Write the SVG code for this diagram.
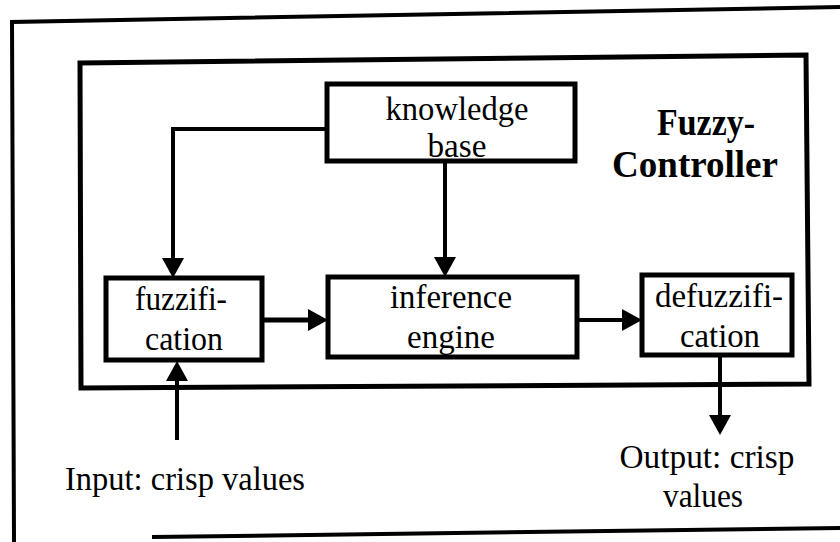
<svg xmlns="http://www.w3.org/2000/svg" width="840" height="542" viewBox="0 0 840 542">
<style>
.frame{fill:none;stroke:#000;stroke-width:4;stroke-linejoin:miter}
.box{fill:#fff;stroke:#000;stroke-width:5}
.conn{fill:none;stroke:#000;stroke-width:4}
.thick{stroke-width:5}
.t{font-family:'Liberation Serif','Times New Roman',serif;font-size:33px;fill:#000;text-anchor:middle}
.b{font-weight:bold;font-size:38px}
</style>
<defs>
<marker id="ah" viewBox="0 0 20 22" refX="1" refY="11" markerWidth="20" markerHeight="22" markerUnits="userSpaceOnUse" orient="auto">
<path d="M0,0 L20,11 L0,22 z" fill="#000"/>
</marker>
</defs>
<rect width="840" height="542" fill="#fff"/>
<g id="outer-frame">
<polyline class="frame" points="840,7 12,22 14,542"/>
<line class="frame" x1="152" y1="537" x2="840" y2="528"/>
</g>
<g id="fuzzy-controller">
<polygon class="frame" points="80,63 806,55 809,384 81,388" style="stroke-width:5"/>
<text class="t b" x="706" y="135" textLength="98" lengthAdjust="spacingAndGlyphs">Fuzzy-</text>
<text class="t b" x="695" y="177" textLength="166" lengthAdjust="spacingAndGlyphs">Controller</text>
</g>
<g id="connectors">
<polyline class="conn" points="327,129 173,129 173,259" marker-end="url(#ah)"/>
<line class="conn" x1="445" y1="162" x2="445" y2="258" marker-end="url(#ah)"/>
<line class="conn thick" x1="262" y1="320" x2="309" y2="320" marker-end="url(#ah)"/>
<line class="conn" x1="577" y1="320" x2="623" y2="320" marker-end="url(#ah)"/>
<line class="conn" x1="720" y1="355" x2="720" y2="416" marker-end="url(#ah)"/>
<line class="conn" x1="177" y1="440" x2="177" y2="380" marker-end="url(#ah)"/>
</g>
<g id="knowledge-base">
<rect class="box" x="327" y="84" width="248" height="77"/>
<text class="t" x="457" y="120" textLength="143" lengthAdjust="spacingAndGlyphs">knowledge</text>
<text class="t" x="457" y="157" textLength="59" lengthAdjust="spacingAndGlyphs">base</text>
</g>
<g id="fuzzification">
<rect class="box" x="106" y="278" width="156" height="82"/>
<text class="t" x="181" y="310" textLength="92" lengthAdjust="spacingAndGlyphs">fuzzifi-</text>
<text class="t" x="184" y="350" textLength="78" lengthAdjust="spacingAndGlyphs">cation</text>
</g>
<g id="inference-engine">
<rect class="box" x="328" y="277" width="249" height="80"/>
<text class="t" x="451" y="308" textLength="122" lengthAdjust="spacingAndGlyphs">inference</text>
<text class="t" x="451" y="348" textLength="88" lengthAdjust="spacingAndGlyphs">engine</text>
</g>
<g id="defuzzification">
<rect class="box" x="642" y="275" width="150" height="80"/>
<text class="t" x="719" y="307" textLength="128" lengthAdjust="spacingAndGlyphs">defuzzifi-</text>
<text class="t" x="720" y="347" textLength="80" lengthAdjust="spacingAndGlyphs">cation</text>
</g>
<g id="input-label">
<text class="t" x="185" y="490" textLength="240" lengthAdjust="spacingAndGlyphs">Input: crisp values</text>
</g>
<g id="output-label">
<text class="t" x="707" y="468" textLength="175" lengthAdjust="spacingAndGlyphs">Output: crisp</text>
<text class="t" x="703" y="507" textLength="80" lengthAdjust="spacingAndGlyphs">values</text>
</g>
</svg>
